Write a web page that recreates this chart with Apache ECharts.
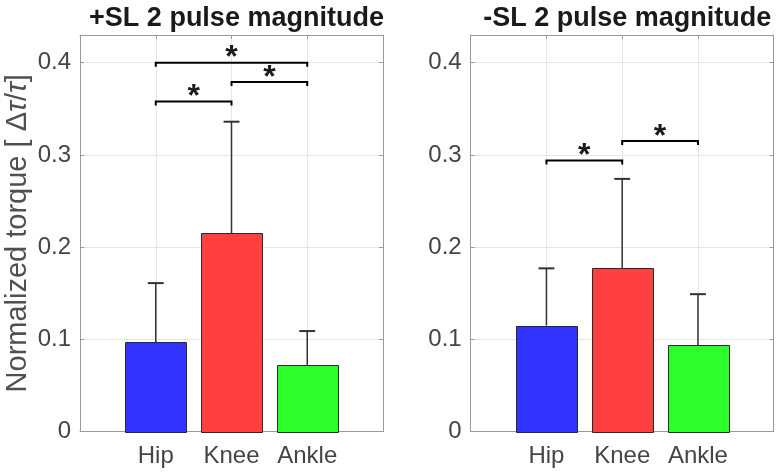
<!DOCTYPE html>
<html><head><meta charset="utf-8">
<script src="https://cdn.jsdelivr.net/npm/echarts@6/dist/echarts.min.js"></script>
<style>html,body{margin:0;padding:0;background:#fff}#c{width:777px;height:476px}</style>
</head><body><div id="c"></div>
<script>
// ---- data ----
const categories = ['Hip', 'Knee', 'Ankle'];
const categoryPos = [1, 2, 3];
const barColors = ['#3333ff', '#ff4040', '#2dff2d'];
const titles = ['+SL 2 pulse magnitude', '-SL 2 pulse magnitude'];
const yTickLabels = [0, 0.1, 0.2, 0.3, 0.4];
const plusMean = [0.097, 0.215, 0.072];
const plusSd = [0.064, 0.121, 0.037];
const minusMean = [0.115, 0.177, 0.094];
const minusSd = [0.062, 0.097, 0.055];
// significance brackets: [from category, to category, height]
const plusSig = [[1, 2, 0.358], [2, 3, 0.379], [1, 3, 0.400]];
const minusSig = [[1, 2, 0.294], [2, 3, 0.315]];

const FONT = '"Liberation Sans", Arial, Helvetica, sans-serif';
const AXIS_COLOR = '#9a9a9a';
const LABEL_COLOR = '#454545';
const Y_MAX = 0.43;

const grids = [
  { left: 80, top: 35, width: 303, height: 396.6 },
  { left: 470.7, top: 35, width: 303, height: 396.6 }
];

const xAxes = [], yAxes = [], series = [], titleOpts = [];
grids.forEach((g, gi) => {
  xAxes.push({
    gridIndex: gi, type: 'value', min: 0, max: 4, interval: 1, position: 'bottom',
    axisLine: { show: true, lineStyle: { color: AXIS_COLOR, width: 1 } },
    axisTick: { show: true, inside: true, length: 4, lineStyle: { color: AXIS_COLOR } },
    splitLine: { show: true, lineStyle: { color: '#e6e6e6', width: 1 } },
    axisLabel: {
      margin: 13, fontSize: 24, color: LABEL_COLOR, fontFamily: FONT,
      formatter: v => { const k = categoryPos.indexOf(v); return k >= 0 ? categories[k] : ''; }
    }
  });
  xAxes.push({
    gridIndex: gi, type: 'value', min: 0, max: 4, interval: 1, position: 'top',
    axisLine: { show: true, onZero: false, lineStyle: { color: AXIS_COLOR, width: 1 } },
    axisTick: { show: true, inside: true, length: 4, lineStyle: { color: AXIS_COLOR } },
    splitLine: { show: false }, axisLabel: { show: false }
  });
  yAxes.push({
    gridIndex: gi, type: 'value', min: 0, max: Y_MAX, interval: 0.1, position: 'left',
    axisLine: { show: true, onZero: false, lineStyle: { color: AXIS_COLOR, width: 1 } },
    axisTick: { show: true, inside: true, length: 4, lineStyle: { color: AXIS_COLOR } },
    splitLine: { show: true, lineStyle: { color: '#e6e6e6', width: 1 } },
    axisLabel: {
      margin: 9, fontSize: 24, color: LABEL_COLOR, fontFamily: FONT,
      formatter: v => {
        const t = yTickLabels.find(t => Math.abs(t - v) < 1e-9);
        return t === undefined ? '' : String(t);
      }
    },
    name: gi === 0 ? 'Normalized torque [ Δ{i|τ}/{i|τ}]' : '',
    nameLocation: 'middle', nameRotate: 90, nameGap: 48,
    nameTextStyle: {
      fontSize: 29, color: '#505050', fontFamily: FONT,
      rich: { i: { fontSize: 29, fontStyle: 'italic', color: '#505050', fontFamily: FONT } }
    }
  });
  yAxes.push({
    gridIndex: gi, type: 'value', min: 0, max: Y_MAX, interval: 0.1, position: 'right',
    axisLine: { show: true, onZero: false, lineStyle: { color: AXIS_COLOR, width: 1 } },
    axisTick: { show: true, inside: true, length: 4, lineStyle: { color: AXIS_COLOR } },
    splitLine: { show: false }, axisLabel: { show: false }
  });
  titleOpts.push({
    text: titles[gi], left: g.left + g.width / 2, top: 0, textAlign: 'center',
    textStyle: { fontSize: 27, fontWeight: 'bold', color: '#1a1a1a', fontFamily: FONT }
  });
});

function addPanel(gi, means, sds, sigs) {
  const xi = gi * 2, yi = gi * 2;
  series.push({
    type: 'custom', xAxisIndex: xi, yAxisIndex: yi, z: 3,
    data: categoryPos.map((p, k) => [p, means[k]]),
    renderItem: (params, api) => {
      const x = api.value(0), y = api.value(1);
      const a = api.coord([x - 0.4, 0]), b = api.coord([x + 0.4, y]);
      return {
        type: 'rect',
        shape: { x: Math.round(a[0]) + 0.5, y: Math.round(b[1]) + 0.5, width: Math.round(b[0] - a[0]), height: Math.round(a[1]) - Math.round(b[1]) },
        style: { fill: barColors[params.dataIndex], stroke: '#2a2a2a', lineWidth: 1 }
      };
    }
  });
  series.push({
    type: 'custom', xAxisIndex: xi, yAxisIndex: yi, z: 4,
    data: categoryPos.map((p, k) => [p, means[k], sds[k]]),
    renderItem: (params, api) => {
      const x = api.value(0), m = api.value(1), s = api.value(2);
      const base = api.coord([x, m]), top = api.coord([x, m + s]);
      const cl = api.coord([x - 0.105, m + s]), cr = api.coord([x + 0.105, m + s]);
      return {
        type: 'group', children: [
          { type: 'line', shape: { x1: base[0], y1: base[1], x2: top[0], y2: top[1] }, style: { stroke: '#333', lineWidth: 1.5 } },
          { type: 'line', shape: { x1: cl[0], y1: cl[1], x2: cr[0], y2: cr[1] }, style: { stroke: '#333', lineWidth: 2 } }
        ]
      };
    }
  });
  series.push({
    type: 'custom', xAxisIndex: xi, yAxisIndex: yi, z: 5,
    data: sigs,
    renderItem: (params, api) => {
      const x1 = api.value(0), x2 = api.value(1), y = api.value(2);
      const p1 = api.coord([x1, y]), p2 = api.coord([x2, y]);
      const drop = 4;
      return {
        type: 'group', children: [
          { type: 'polyline', shape: { points: [[p1[0], p1[1] + drop], [p1[0], p1[1]], [p2[0], p2[1]], [p2[0], p2[1] + drop]] },
            style: { stroke: '#000', lineWidth: 2, fill: null } },
          { type: 'text', x: (p1[0] + p2[0]) / 2, y: p1[1] - 4,
            style: { text: '*', fontSize: 32, fontWeight: 'bold', fontFamily: FONT, fill: '#1a1a1a', align: 'center', verticalAlign: 'middle' } }
        ]
      };
    }
  });
}
addPanel(0, plusMean, plusSd, plusSig);
addPanel(1, minusMean, minusSd, minusSig);

const chart = echarts.init(document.getElementById('c'), null, { renderer: 'canvas' });
chart.setOption({
  animation: false,
  backgroundColor: '#fff',
  title: titleOpts,
  grid: grids,
  xAxis: xAxes,
  yAxis: yAxes,
  series: series
});
</script></body></html>
